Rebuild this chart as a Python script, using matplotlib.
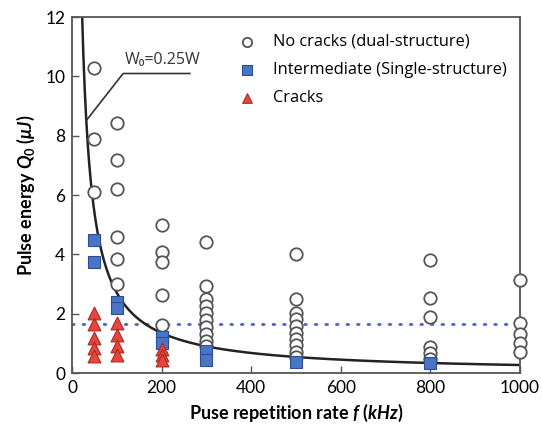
import matplotlib.pyplot as plt
import numpy as np

plt.rcParams['font.family'] = ['Lato', 'DejaVu Sans']
plt.rcParams['mathtext.fontset'] = 'custom'
plt.rcParams['mathtext.it'] = 'Lato:italic:bold'
plt.rcParams['mathtext.rm'] = 'Lato:bold'

# Data
nocrack_f = [50, 50, 50,
             100, 100, 100, 100, 100, 100,
             200, 200, 200, 200, 200,
             300, 300, 300, 300, 300, 300, 300, 300, 300, 300,
             500, 500, 500, 500, 500, 500, 500, 500, 500, 500,
             800, 800, 800, 800, 800, 800,
             1000, 1000, 1000, 1000, 1000]
nocrack_q = [10.3, 7.9, 6.1,
             8.43, 7.18, 6.2, 4.58, 3.84, 3.0,
             4.99, 4.08, 3.74, 2.63, 1.62,
             4.42, 2.95, 2.5, 2.26, 2.04, 1.8, 1.56, 1.32, 1.08, 0.92,
             4.0, 2.49, 2.02, 1.82, 1.58, 1.35, 1.15, 0.94, 0.71, 0.54,
             3.8, 2.53, 1.89, 0.88, 0.66, 0.48,
             3.12, 1.68, 1.30, 1.0, 0.71]

inter_f = [50, 50, 100, 100, 200, 200, 300, 300, 500, 800]
inter_q = [4.48, 3.74, 2.39, 2.2, 1.21, 1.01, 0.74, 0.44, 0.37, 0.34]

crack_f = [50, 50, 50, 50, 50, 100, 100, 100, 100, 200, 200, 200]
crack_q = [2.02, 1.65, 1.18, 0.86, 0.59, 1.69, 1.28, 0.91, 0.61, 0.8, 0.62, 0.45]

# W0 = 0.25W threshold curve, Q ~ a / f
curve_a = 270.0
threshold_q = 1.65

fig = plt.figure(figsize=(5.42, 4.29), dpi=100)
ax = fig.add_axes([0.133, 0.1305, 0.826, 0.8295])

f_curve = np.linspace(curve_a / 12.5, 1000, 600)
ax.plot(f_curve, curve_a / f_curve, color='#222222', lw=1.8, zorder=2)

ax.axhline(threshold_q, color='#4a63c8', lw=2.0, ls=(0, (0.6, 3.2)),
           dash_capstyle='round', zorder=1)

ax.scatter(nocrack_f, nocrack_q, s=80, facecolor='white', edgecolor='#555555',
           linewidth=1.3, zorder=3, clip_on=False, label='No cracks (dual-structure)')
ax.scatter(inter_f, inter_q, s=75, marker='s', facecolor='#4a74c6', edgecolor='#2d4f8f',
           linewidth=0.8, zorder=4, clip_on=False, label='Intermediate (Single-structure)')
ax.scatter(crack_f, crack_q, s=85, marker='^', facecolor='#e8463c', edgecolor='#a82a22',
           linewidth=0.8, zorder=4, clip_on=False, label='Cracks')

# leader line from the curve to its label
ax.plot([31, 114, 263], [8.5, 10.1, 10.1], color='#333333', lw=1.2, zorder=2)
ax.text(118, 10.55, 'W₀=0.25W', fontsize=11.5, color='#333333', va='center',
        family=['Open Sans', 'DejaVu Sans'])

ax.set_xlim(0, 1000)
ax.set_ylim(0, 12)
ax.set_xticks([0, 200, 400, 600, 800, 1000])
ax.set_yticks([0, 2, 4, 6, 8, 10, 12])
ax.tick_params(direction='in', length=5, width=1, color='#555555',
               labelsize=12.5, pad=5)
for sp in ax.spines.values():
    sp.set_color('#555555')
    sp.set_linewidth(1.3)

ax.set_xlabel(r'Puse repetition rate $f$ ($kHz$)', fontsize=13, fontweight='bold', labelpad=4)
ax.set_ylabel(r'Pulse energy $Q_{\mathit{0}}$ ($\mu J$)', fontsize=13, fontweight='bold', labelpad=6)

ax.legend(loc='upper right', frameon=False, handletextpad=0.6, markerscale=0.75,
          labelspacing=0.75, borderaxespad=0.4, bbox_to_anchor=(1.0, 0.99),
          prop={'family': ['Open Sans', 'DejaVu Sans'], 'size': 11.8})

fig.savefig('out.png', dpi=100)
